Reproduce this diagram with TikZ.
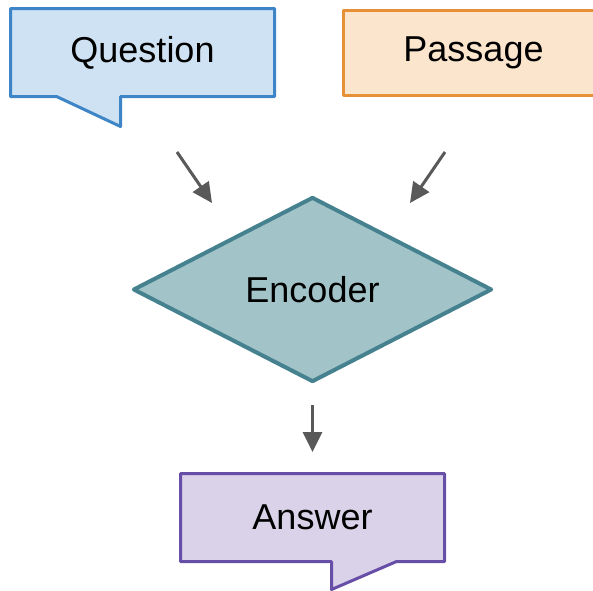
\documentclass[tikz,border=0pt]{standalone}
\usepackage{fontspec}
\setmainfont{Liberation Sans}
\usetikzlibrary{positioning, calc, shapes.geometric, arrows.meta}

\definecolor{qfill}{HTML}{CFE2F3}
\definecolor{qline}{HTML}{3D85C6}
\definecolor{pfill}{HTML}{FCE5CD}
\definecolor{pline}{HTML}{E69138}
\definecolor{afill}{HTML}{D9D2E9}
\definecolor{aline}{HTML}{674EA7}
\definecolor{efill}{HTML}{A2C4C9}
\definecolor{eline}{HTML}{45818E}
\definecolor{seta}{HTML}{595959}

\begin{document}
\begin{tikzpicture}[x=0.5pt, y=-0.5pt, line width=1.5pt, line join=round,
	>={Triangle[length=10pt, width=9.5pt]},
	every node/.style={font=\fontsize{18}{22}\selectfont},
	caixa/.style={rectangle, minimum width=130.5pt, minimum height=42.5pt, inner sep=0pt},
	enc/.style={diamond, draw=eline, fill=efill, line width=2pt, minimum width=179.5pt, minimum height=92.5pt, inner sep=0pt},
	seta/.style={->, draw=seta, line width=1.5pt}]
			\useasboundingbox (0,0) rectangle (593,590);
			\clip (0,0) rectangle (593,590);

			%Caixas:
			\node[caixa]	(Q)	at (142.5,52.5)	{};
			\node[caixa, draw=pline, fill=pfill]	(P)	at (473.5,52.5)	{Passage};
			\node[enc]		(E)	at (312.5,289.5)	{Encoder};
			\node[caixa]	(A)	at (312.5,517.5)	{};

			%Balões com ponta
			\draw[draw=qline, fill=qfill] (Q.north west) -- (Q.north east) -- (Q.south east)
				-- ([xshift=55pt]Q.south west) -- ++(0,30) -- ([xshift=23pt]Q.south west) -- (Q.south west) -- cycle;
			\node at (Q) {Question};
			\draw[draw=aline, fill=afill] (A.north west) -- (A.north east) -- (A.south east)
				-- ([xshift=108pt]A.south west) -- ([xshift=75.5pt, yshift=-14pt]A.south west) -- ([xshift=75.5pt]A.south west) -- (A.south west) -- cycle;
			\node at (A) {Answer};

			%Setas:
			\coordinate (q1) at (177,152);	\coordinate (e1) at (212,203);
			\coordinate (p1) at (445,152);	\coordinate (e2) at (410,203);
			\coordinate (e3) at (312.5,405);	\coordinate (a1) at (312.5,452);
			\draw[seta] (q1) -- (e1);
			\draw[seta] (p1) -- (e2);
			\draw[seta] (e3) -- (a1);
		\end{tikzpicture}
\end{document}
